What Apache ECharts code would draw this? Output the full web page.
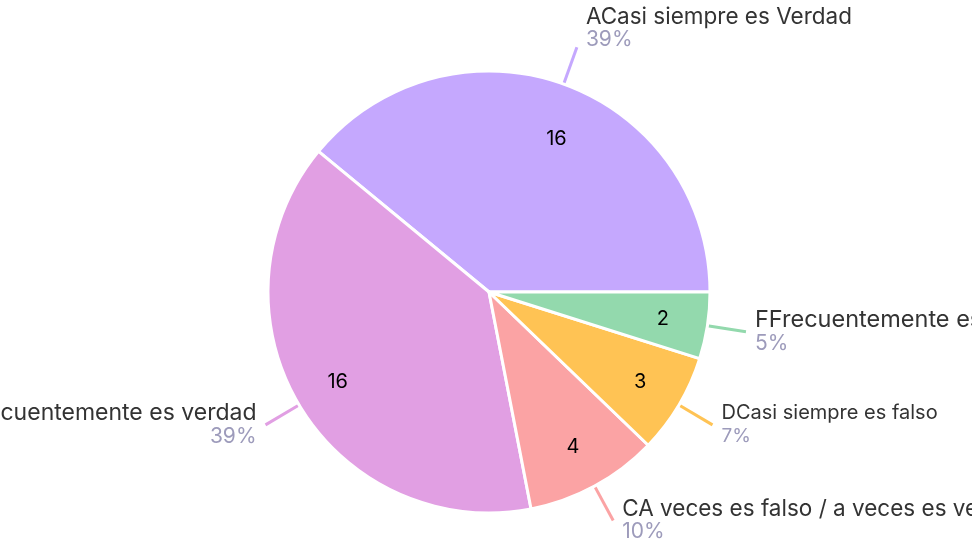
<!DOCTYPE html>
<html>
<head>
<meta charset="utf-8">
<script src="https://cdn.jsdelivr.net/npm/echarts@6/dist/echarts.min.js"></script>
<style>
  html, body { margin: 0; padding: 0; background: #fff; }
  #chart { width: 972px; height: 558px; }
</style>
</head>
<body>
<div id="chart"></div>
<script>
const names = [
  'ACasi siempre es Verdad',
  'BFrecuentemente es verdad',
  'CA veces es falso / a veces es verdad',
  'DCasi siempre es falso',
  'FFrecuentemente es falso'
];
const values = [16, 16, 4, 3, 2];
const colors = ['#c5a8fe', '#e19fe3', '#fba3a4', '#ffc354', '#93d9ad'];
// label text size differs per slice in the original
const nameSizes = [22.5, 23, 22.5, 20, 23.5];
const pctSizes = [21, 21, 21, 19, 21];

const font = 'Inter';

const rich = {};
names.forEach((n, i) => {
  rich['n' + i] = { fontSize: nameSizes[i], color: '#333333', fontFamily: font, lineHeight: 23 };
  rich['p' + i] = { fontSize: pctSizes[i], color: '#9d9bbb', fontFamily: font, lineHeight: 23 };
});

const pieData = names.map((n, i) => ({
  name: n,
  value: values[i],
  itemStyle: { color: colors[i] },
  label: { formatter: '{n' + i + '|{b}}\n{p' + i + '|{d}%}' },
  labelLine: { lineStyle: { color: colors[i] } }
}));
// first label sits a bit higher than its line end
pieData[0].label.padding = [0, 0, 38, 0];

const innerData = names.map((n, i) => ({ name: n, value: values[i] }));
innerData[0].label = { offset: [8, 13] };

const myChart = echarts.init(document.getElementById('chart'));

const option = {
  animation: false,
  textStyle: { fontFamily: font },
  series: [
    {
      type: 'pie',
      center: [489, 292],
      radius: [0, 221],
      startAngle: 0,
      clockwise: false,
      percentPrecision: 0,
      avoidLabelOverlap: false,
      silent: true,
      itemStyle: { borderColor: '#fff', borderWidth: 3 },
      label: {
        show: true,
        position: 'outside',
        overflow: 'none',
        distanceToLabelLine: 9,
        rich: rich
      },
      labelLine: { show: true, length: 39, length2: 0, lineStyle: { width: 3 } },
      data: pieData
    },
    {
      type: 'pie',
      center: [489, 292],
      radius: [125, 221],
      startAngle: 0,
      clockwise: false,
      silent: true,
      itemStyle: { color: 'transparent', borderWidth: 0 },
      label: {
        show: true,
        position: 'inside',
        formatter: '{c}',
        color: '#000',
        fontSize: 20,
        fontFamily: font
      },
      labelLine: { show: false },
      data: innerData
    }
  ]
};

myChart.setOption(option);
</script>
</body>
</html>
